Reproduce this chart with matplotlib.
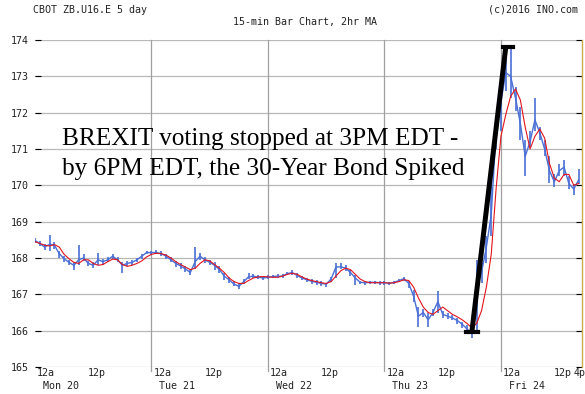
import matplotlib.pyplot as plt
import matplotlib.transforms as mtransforms
import numpy as np

# hourly readings, hour 0 = Mon 20 12a
hours = np.arange(113)

bar_low = [
    168.40, 168.32, 168.22, 168.20, 168.25, 168.00, 167.90, 167.80, 167.67, 167.80,
    167.92, 167.78, 167.72, 167.82, 167.82, 167.88, 167.98, 167.88, 167.58, 167.78,
    167.80, 167.88, 167.98, 168.10, 168.08, 168.10, 168.05, 167.98, 167.88, 167.75,
    167.70, 167.62, 167.52, 167.70, 167.95, 167.85, 167.80, 167.68, 167.58, 167.40,
    167.30, 167.22, 167.15, 167.28, 167.42, 167.44, 167.42, 167.40, 167.42, 167.44,
    167.44, 167.45, 167.52, 167.52, 167.45, 167.40, 167.33, 167.28, 167.27, 167.22,
    167.20, 167.35, 167.45, 167.70, 167.65, 167.50, 167.26, 167.28, 167.26, 167.28,
    167.28, 167.27, 167.27, 167.26, 167.28, 167.33, 167.36, 167.18, 166.80, 166.11,
    166.37, 166.11, 166.40, 166.48, 166.34, 166.32, 166.28, 166.18, 166.08, 165.98,
    165.80, 166.00, 167.30, 167.85, 168.60, 171.00, 171.50, 172.60, 172.40, 172.05,
    171.25, 170.25, 171.05, 171.50, 171.25, 170.80, 170.07, 169.95, 170.25, 170.25,
    169.90, 169.73, 170.05,
]

bar_high = [
    168.55, 168.48, 168.38, 168.62, 168.45, 168.20, 168.05, 167.95, 167.88, 168.36,
    168.10, 167.92, 167.88, 168.13, 167.98, 168.02, 168.12, 168.02, 167.88, 167.92,
    167.95, 168.00, 168.12, 168.20, 168.20, 168.22, 168.18, 168.10, 168.02, 167.92,
    167.85, 167.78, 167.66, 168.30, 168.15, 168.02, 167.95, 167.88, 167.78, 167.60,
    167.48, 167.36, 167.30, 167.42, 167.58, 167.56, 167.52, 167.50, 167.52, 167.54,
    167.55, 167.55, 167.62, 167.66, 167.58, 167.50, 167.46, 167.42, 167.40, 167.36,
    167.32, 167.48, 167.86, 167.85, 167.80, 167.68, 167.52, 167.38, 167.38, 167.38,
    167.38, 167.37, 167.36, 167.34, 167.38, 167.43, 167.48, 167.38, 167.12, 166.66,
    166.60, 166.48, 166.60, 167.08, 166.55, 166.48, 166.42, 166.35, 166.25, 166.15,
    166.05, 167.95, 167.85, 168.60, 170.00, 171.90, 172.90, 173.70, 173.75, 172.70,
    172.15, 171.25, 171.50, 172.40, 171.60, 171.25, 170.80, 170.30, 170.60, 170.70,
    170.25, 170.05, 170.45,
]

bar_mid = [
    168.48, 168.40, 168.30, 168.38, 168.35, 168.12, 167.98, 167.88, 167.80, 167.95,
    168.00, 167.85, 167.80, 167.95, 167.90, 167.95, 168.05, 167.95, 167.80, 167.85,
    167.88, 167.95, 168.05, 168.15, 168.15, 168.15, 168.12, 168.05, 167.95, 167.85,
    167.78, 167.70, 167.60, 167.90, 168.05, 167.95, 167.88, 167.80, 167.68, 167.50,
    167.40, 167.28, 167.22, 167.35, 167.48, 167.50, 167.47, 167.45, 167.47, 167.49,
    167.50, 167.50, 167.57, 167.60, 167.52, 167.45, 167.40, 167.36, 167.33, 167.30,
    167.28, 167.42, 167.75, 167.76, 167.72, 167.60, 167.45, 167.33, 167.32, 167.33,
    167.33, 167.32, 167.32, 167.30, 167.33, 167.38, 167.43, 167.30, 166.95, 166.40,
    166.50, 166.30, 166.50, 166.80, 166.45, 166.40, 166.35, 166.28, 166.18, 166.05,
    165.92, 167.20, 167.60, 168.30, 169.20, 171.50, 172.30, 173.10, 173.00, 172.40,
    171.70, 170.80, 171.20, 171.80, 171.45, 171.00, 170.40, 170.10, 170.40, 170.50,
    170.05, 169.90, 170.15,
]

ma_2hr = [
    168.45, 168.40, 168.35, 168.33, 168.37, 168.30, 168.10, 167.98, 167.88, 167.85,
    167.95, 167.95, 167.85, 167.80, 167.82, 167.90, 167.97, 167.95, 167.82, 167.77,
    167.80, 167.85, 167.92, 168.03, 168.10, 168.13, 168.12, 168.08, 168.00, 167.90,
    167.82, 167.75, 167.68, 167.72, 167.85, 167.95, 167.92, 167.82, 167.72, 167.60,
    167.45, 167.35, 167.30, 167.30, 167.38, 167.45, 167.48, 167.49, 167.48, 167.47,
    167.47, 167.50, 167.55, 167.58, 167.55, 167.48, 167.42, 167.38, 167.35, 167.32,
    167.30, 167.35, 167.50, 167.65, 167.72, 167.68, 167.55, 167.42, 167.35, 167.32,
    167.32, 167.32, 167.32, 167.31, 167.32, 167.35, 167.40, 167.38, 167.20, 166.90,
    166.65, 166.50, 166.45, 166.55, 166.65, 166.55, 166.45, 166.38, 166.30, 166.20,
    166.08, 166.20, 166.55, 167.20, 168.10, 169.90, 171.35, 171.95, 172.45, 172.65,
    172.35, 171.60, 171.00, 171.35, 171.55, 171.30, 170.60, 170.20, 170.10, 170.30,
    170.30, 170.00, 170.05,
]

day_ticks = [0, 24, 48, 72, 96]
day_labels = ['12a\n Mon 20', '12a\n Tue 21', '12a\n Wed 22', '12a\n Thu 23', '12a\n Fri 24']
half_ticks = [12, 36, 60, 84, 108, 112]
half_labels = ['12p', '12p', '12p', '12p', '12p', '4p']
price_ticks = list(range(165, 175))

# hand-drawn marker on the chart: (hour, price)
spike_start = (90.0, 165.96)
spike_end = (97.0, 173.81)

note_lines = ['BREXIT voting stopped at 3PM EDT -',
              'by 6PM EDT, the 30-Year Bond Spiked']

blue = '#4a6fd6'
red = '#e3141c'
mono = 'DejaVu Sans Mono'

fig = plt.figure(figsize=(5.85, 3.94), dpi=100)
ax = fig.add_axes([35 / 585, 27 / 394, 547 / 585, 327 / 394])

ax.vlines(hours, bar_low, bar_high, color=blue, lw=1.2, zorder=3)
ax.plot(hours, bar_mid, color=blue, lw=1.0, zorder=3)
ax.plot(hours, ma_2hr, color=red, lw=0.8, zorder=4)

# the black annotation stroke with its end caps
ax.plot([spike_start[0], spike_end[0]], [spike_start[1], spike_end[1]],
        color='black', lw=3.6, solid_capstyle='butt', zorder=6)
ax.plot([spike_start[0] - 1.1, spike_start[0] + 1.3], [spike_start[1]] * 2,
        color='black', lw=3.0, zorder=6)
ax.plot([spike_end[0] - 0.6, spike_end[0] + 1.5], [spike_end[1]] * 2,
        color='black', lw=3.0, zorder=6)

ax.set_xlim(0, 112.7)
ax.set_ylim(165, 174)

# grid
ax.set_yticks(price_ticks)
ax.yaxis.grid(True, color='#b8b8b8', lw=0.9)
ax.set_axisbelow(True)
for d in day_ticks[1:]:
    ax.axvline(d, ymin=-0.013, ymax=1, color='#a0a0a0', lw=0.9, clip_on=False, zorder=1)

for side in ['left', 'top', 'bottom']:
    ax.spines[side].set_visible(False)
ax.spines['right'].set_color('#c8ac50')
ax.spines['right'].set_linewidth(1.0)

ax.tick_params(axis='y', which='both', left=True, right=True, direction='in',
               length=4, width=0.8, color='black', pad=4.3,
               labelsize=7.2, labelcolor='#222222')
for lbl in ax.get_yticklabels():
    lbl.set_family(mono)

ax.set_xticks(day_ticks)
ax.set_xticklabels(day_labels)
ax.set_xticks(half_ticks, minor=True)
ax.set_xticklabels(half_labels, minor=True)
ax.tick_params(axis='x', which='both', length=0, pad=0.5,
               labelsize=7.2, labelcolor='#222222')

for tick in ax.xaxis.get_major_ticks():
    t = tick.label1
    t.set_family(mono)
    t.set_horizontalalignment('left')
    t.set_linespacing(1.4)
    t.set_transform(t.get_transform() + mtransforms.ScaledTranslation(0.02, 0, fig.dpi_scale_trans))
for tick in ax.xaxis.get_minor_ticks():
    t = tick.label1
    t.set_family(mono)
    t.set_horizontalalignment('left')
    t.set_transform(t.get_transform() + mtransforms.ScaledTranslation(-0.05, 0, fig.dpi_scale_trans))

# header texts
fig.text(33 / 585, 1 - 10 / 394, 'CBOT ZB.U16.E 5 day', family=mono, fontsize=7.2,
         color='#222222', ha='left', va='center')
fig.text(578 / 585, 1 - 10 / 394, '(c)2016 INO.com', family=mono, fontsize=7.2,
         color='#222222', ha='right', va='center')
fig.text(305 / 585, 1 - 22 / 394, '15-min Bar Chart, 2hr MA', family=mono, fontsize=7.2,
         color='#222222', ha='center', va='center')

# annotation
for i, line in enumerate(note_lines):
    fig.text(62 / 585, 1 - (145 + 30 * i) / 394, line, family='Liberation Serif',
             fontsize=18.2, color='black', ha='left', va='baseline', zorder=7)

fig.savefig('out.png', dpi=100)
